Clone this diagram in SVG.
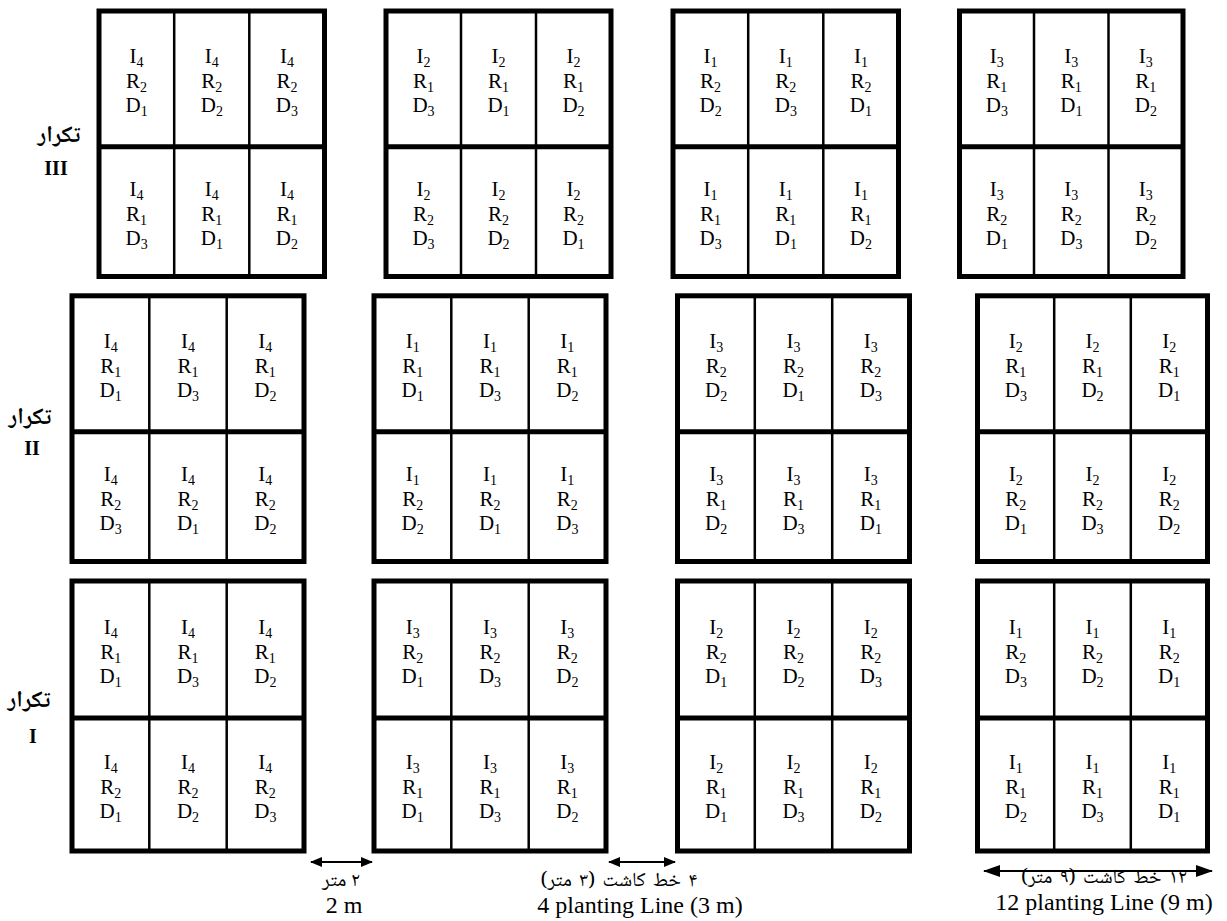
<svg xmlns="http://www.w3.org/2000/svg" width="1227" height="921" viewBox="0 0 1227 921">
<style>
.b{fill:none;stroke:#000;stroke-width:5;stroke-linejoin:miter}
.m{stroke:#000;stroke-width:5}
.v{stroke:#000;stroke-width:2.5}
.c{font-family:"Liberation Serif","Times New Roman",serif;font-size:21px;text-anchor:middle;fill:#000}
.s{font-size:14px}
.fa{font-family:"Noto Naskh Arabic","DejaVu Sans",sans-serif;fill:#000;text-anchor:middle}
.en{font-family:"Liberation Serif","Times New Roman",serif;font-size:24px;fill:#000;text-anchor:middle}
.lb{font-family:"Liberation Serif","Times New Roman",serif;font-size:20px;font-weight:bold;text-anchor:middle;fill:#000}
.ar{stroke:#000;stroke-width:2;fill:none}
</style>
<defs>
<marker id="ah" viewBox="0 0 12 10" refX="11" refY="5" markerWidth="12" markerHeight="10" markerUnits="userSpaceOnUse" orient="auto-start-reverse"><path d="M0,0 L12,5 L0,10 z" fill="#000"/></marker>
<marker id="ahL" viewBox="0 0 17 12" refX="16" refY="6" markerWidth="17" markerHeight="12" markerUnits="userSpaceOnUse" orient="auto-start-reverse"><path d="M0,0 L17,6 L0,12 z" fill="#000"/></marker>
</defs>
<rect width="1227" height="921" fill="#fff"/>

<g id="label-rep3"><text class="fa" x="59" y="142" font-size="23" font-weight="bold" direction="rtl">تکرار</text><text class="lb" x="56" y="175">III</text></g>
<g id="label-rep2"><text class="fa" x="30" y="424" font-size="23" font-weight="bold" direction="rtl">تکرار</text><text class="lb" x="32" y="455">II</text></g>
<g id="label-rep1"><text class="fa" x="29" y="707" font-size="23" font-weight="bold" direction="rtl">تکرار</text><text class="lb" x="33" y="743">I</text></g>

<!-- Replication III -->
<g id="r3b1">
<rect class="b" x="99" y="11" width="225.5" height="265.5"/><line class="m" x1="99" y1="146.7" x2="324.5" y2="146.7"/><line class="v" x1="174.2" y1="11" x2="174.2" y2="276.5"/><line class="v" x1="249.3" y1="11" x2="249.3" y2="276.5"/>
<text class="c"><tspan x="136.6" y="63.4">I</tspan><tspan class="s" dy="4">4</tspan><tspan x="136.6" y="87.9">R</tspan><tspan class="s" dy="4">2</tspan><tspan x="136.6" y="112.4">D</tspan><tspan class="s" dy="4">1</tspan></text>
<text class="c"><tspan x="211.8" y="63.4">I</tspan><tspan class="s" dy="4">4</tspan><tspan x="211.8" y="87.9">R</tspan><tspan class="s" dy="4">2</tspan><tspan x="211.8" y="112.4">D</tspan><tspan class="s" dy="4">2</tspan></text>
<text class="c"><tspan x="286.9" y="63.4">I</tspan><tspan class="s" dy="4">4</tspan><tspan x="286.9" y="87.9">R</tspan><tspan class="s" dy="4">2</tspan><tspan x="286.9" y="112.4">D</tspan><tspan class="s" dy="4">3</tspan></text>
<text class="c"><tspan x="136.6" y="196.1">I</tspan><tspan class="s" dy="4">4</tspan><tspan x="136.6" y="220.6">R</tspan><tspan class="s" dy="4">1</tspan><tspan x="136.6" y="245.1">D</tspan><tspan class="s" dy="4">3</tspan></text>
<text class="c"><tspan x="211.8" y="196.1">I</tspan><tspan class="s" dy="4">4</tspan><tspan x="211.8" y="220.6">R</tspan><tspan class="s" dy="4">1</tspan><tspan x="211.8" y="245.1">D</tspan><tspan class="s" dy="4">1</tspan></text>
<text class="c"><tspan x="286.9" y="196.1">I</tspan><tspan class="s" dy="4">4</tspan><tspan x="286.9" y="220.6">R</tspan><tspan class="s" dy="4">1</tspan><tspan x="286.9" y="245.1">D</tspan><tspan class="s" dy="4">2</tspan></text>
</g>
<g id="r3b2">
<rect class="b" x="386" y="11" width="225" height="265.5"/><line class="m" x1="386" y1="146.7" x2="611" y2="146.7"/><line class="v" x1="461" y1="11" x2="461" y2="276.5"/><line class="v" x1="536" y1="11" x2="536" y2="276.5"/>
<text class="c"><tspan x="423.5" y="63.4">I</tspan><tspan class="s" dy="4">2</tspan><tspan x="423.5" y="87.9">R</tspan><tspan class="s" dy="4">1</tspan><tspan x="423.5" y="112.4">D</tspan><tspan class="s" dy="4">3</tspan></text>
<text class="c"><tspan x="498.5" y="63.4">I</tspan><tspan class="s" dy="4">2</tspan><tspan x="498.5" y="87.9">R</tspan><tspan class="s" dy="4">1</tspan><tspan x="498.5" y="112.4">D</tspan><tspan class="s" dy="4">1</tspan></text>
<text class="c"><tspan x="573.5" y="63.4">I</tspan><tspan class="s" dy="4">2</tspan><tspan x="573.5" y="87.9">R</tspan><tspan class="s" dy="4">1</tspan><tspan x="573.5" y="112.4">D</tspan><tspan class="s" dy="4">2</tspan></text>
<text class="c"><tspan x="423.5" y="196.1">I</tspan><tspan class="s" dy="4">2</tspan><tspan x="423.5" y="220.6">R</tspan><tspan class="s" dy="4">2</tspan><tspan x="423.5" y="245.1">D</tspan><tspan class="s" dy="4">3</tspan></text>
<text class="c"><tspan x="498.5" y="196.1">I</tspan><tspan class="s" dy="4">2</tspan><tspan x="498.5" y="220.6">R</tspan><tspan class="s" dy="4">2</tspan><tspan x="498.5" y="245.1">D</tspan><tspan class="s" dy="4">2</tspan></text>
<text class="c"><tspan x="573.5" y="196.1">I</tspan><tspan class="s" dy="4">2</tspan><tspan x="573.5" y="220.6">R</tspan><tspan class="s" dy="4">2</tspan><tspan x="573.5" y="245.1">D</tspan><tspan class="s" dy="4">1</tspan></text>
</g>
<g id="r3b3">
<rect class="b" x="673" y="11" width="225.5" height="265.5"/><line class="m" x1="673" y1="146.7" x2="898.5" y2="146.7"/><line class="v" x1="748.2" y1="11" x2="748.2" y2="276.5"/><line class="v" x1="823.3" y1="11" x2="823.3" y2="276.5"/>
<text class="c"><tspan x="710.6" y="63.4">I</tspan><tspan class="s" dy="4">1</tspan><tspan x="710.6" y="87.9">R</tspan><tspan class="s" dy="4">2</tspan><tspan x="710.6" y="112.4">D</tspan><tspan class="s" dy="4">2</tspan></text>
<text class="c"><tspan x="785.8" y="63.4">I</tspan><tspan class="s" dy="4">1</tspan><tspan x="785.8" y="87.9">R</tspan><tspan class="s" dy="4">2</tspan><tspan x="785.8" y="112.4">D</tspan><tspan class="s" dy="4">3</tspan></text>
<text class="c"><tspan x="860.9" y="63.4">I</tspan><tspan class="s" dy="4">1</tspan><tspan x="860.9" y="87.9">R</tspan><tspan class="s" dy="4">2</tspan><tspan x="860.9" y="112.4">D</tspan><tspan class="s" dy="4">1</tspan></text>
<text class="c"><tspan x="710.6" y="196.1">I</tspan><tspan class="s" dy="4">1</tspan><tspan x="710.6" y="220.6">R</tspan><tspan class="s" dy="4">1</tspan><tspan x="710.6" y="245.1">D</tspan><tspan class="s" dy="4">3</tspan></text>
<text class="c"><tspan x="785.8" y="196.1">I</tspan><tspan class="s" dy="4">1</tspan><tspan x="785.8" y="220.6">R</tspan><tspan class="s" dy="4">1</tspan><tspan x="785.8" y="245.1">D</tspan><tspan class="s" dy="4">1</tspan></text>
<text class="c"><tspan x="860.9" y="196.1">I</tspan><tspan class="s" dy="4">1</tspan><tspan x="860.9" y="220.6">R</tspan><tspan class="s" dy="4">1</tspan><tspan x="860.9" y="245.1">D</tspan><tspan class="s" dy="4">2</tspan></text>
</g>
<g id="r3b4">
<rect class="b" x="959.5" y="11" width="223.5" height="265.5"/><line class="m" x1="959.5" y1="146.7" x2="1183" y2="146.7"/><line class="v" x1="1034" y1="11" x2="1034" y2="276.5"/><line class="v" x1="1108.5" y1="11" x2="1108.5" y2="276.5"/>
<text class="c"><tspan x="996.8" y="63.4">I</tspan><tspan class="s" dy="4">3</tspan><tspan x="996.8" y="87.9">R</tspan><tspan class="s" dy="4">1</tspan><tspan x="996.8" y="112.4">D</tspan><tspan class="s" dy="4">3</tspan></text>
<text class="c"><tspan x="1071.3" y="63.4">I</tspan><tspan class="s" dy="4">3</tspan><tspan x="1071.3" y="87.9">R</tspan><tspan class="s" dy="4">1</tspan><tspan x="1071.3" y="112.4">D</tspan><tspan class="s" dy="4">1</tspan></text>
<text class="c"><tspan x="1145.8" y="63.4">I</tspan><tspan class="s" dy="4">3</tspan><tspan x="1145.8" y="87.9">R</tspan><tspan class="s" dy="4">1</tspan><tspan x="1145.8" y="112.4">D</tspan><tspan class="s" dy="4">2</tspan></text>
<text class="c"><tspan x="996.8" y="196.1">I</tspan><tspan class="s" dy="4">3</tspan><tspan x="996.8" y="220.6">R</tspan><tspan class="s" dy="4">2</tspan><tspan x="996.8" y="245.1">D</tspan><tspan class="s" dy="4">1</tspan></text>
<text class="c"><tspan x="1071.3" y="196.1">I</tspan><tspan class="s" dy="4">3</tspan><tspan x="1071.3" y="220.6">R</tspan><tspan class="s" dy="4">2</tspan><tspan x="1071.3" y="245.1">D</tspan><tspan class="s" dy="4">3</tspan></text>
<text class="c"><tspan x="1145.8" y="196.1">I</tspan><tspan class="s" dy="4">3</tspan><tspan x="1145.8" y="220.6">R</tspan><tspan class="s" dy="4">2</tspan><tspan x="1145.8" y="245.1">D</tspan><tspan class="s" dy="4">2</tspan></text>
</g>

<!-- Replication II -->
<g id="r2b1">
<rect class="b" x="72" y="295.8" width="232" height="265.7"/><line class="m" x1="72" y1="431.8" x2="304" y2="431.8"/><line class="v" x1="149.3" y1="295.8" x2="149.3" y2="561.5"/><line class="v" x1="226.7" y1="295.8" x2="226.7" y2="561.5"/>
<text class="c"><tspan x="110.7" y="348.3">I</tspan><tspan class="s" dy="4">4</tspan><tspan x="110.7" y="372.8">R</tspan><tspan class="s" dy="4">1</tspan><tspan x="110.7" y="397.3">D</tspan><tspan class="s" dy="4">1</tspan></text>
<text class="c"><tspan x="188" y="348.3">I</tspan><tspan class="s" dy="4">4</tspan><tspan x="188" y="372.8">R</tspan><tspan class="s" dy="4">1</tspan><tspan x="188" y="397.3">D</tspan><tspan class="s" dy="4">3</tspan></text>
<text class="c"><tspan x="265.3" y="348.3">I</tspan><tspan class="s" dy="4">4</tspan><tspan x="265.3" y="372.8">R</tspan><tspan class="s" dy="4">1</tspan><tspan x="265.3" y="397.3">D</tspan><tspan class="s" dy="4">2</tspan></text>
<text class="c"><tspan x="110.7" y="481.2">I</tspan><tspan class="s" dy="4">4</tspan><tspan x="110.7" y="505.7">R</tspan><tspan class="s" dy="4">2</tspan><tspan x="110.7" y="530.2">D</tspan><tspan class="s" dy="4">3</tspan></text>
<text class="c"><tspan x="188" y="481.2">I</tspan><tspan class="s" dy="4">4</tspan><tspan x="188" y="505.7">R</tspan><tspan class="s" dy="4">2</tspan><tspan x="188" y="530.2">D</tspan><tspan class="s" dy="4">1</tspan></text>
<text class="c"><tspan x="265.3" y="481.2">I</tspan><tspan class="s" dy="4">4</tspan><tspan x="265.3" y="505.7">R</tspan><tspan class="s" dy="4">2</tspan><tspan x="265.3" y="530.2">D</tspan><tspan class="s" dy="4">2</tspan></text>
</g>
<g id="r2b2">
<rect class="b" x="374" y="295.8" width="232" height="265.7"/><line class="m" x1="374" y1="431.8" x2="606" y2="431.8"/><line class="v" x1="451.3" y1="295.8" x2="451.3" y2="561.5"/><line class="v" x1="528.7" y1="295.8" x2="528.7" y2="561.5"/>
<text class="c"><tspan x="412.7" y="348.3">I</tspan><tspan class="s" dy="4">1</tspan><tspan x="412.7" y="372.8">R</tspan><tspan class="s" dy="4">1</tspan><tspan x="412.7" y="397.3">D</tspan><tspan class="s" dy="4">1</tspan></text>
<text class="c"><tspan x="490" y="348.3">I</tspan><tspan class="s" dy="4">1</tspan><tspan x="490" y="372.8">R</tspan><tspan class="s" dy="4">1</tspan><tspan x="490" y="397.3">D</tspan><tspan class="s" dy="4">3</tspan></text>
<text class="c"><tspan x="567.3" y="348.3">I</tspan><tspan class="s" dy="4">1</tspan><tspan x="567.3" y="372.8">R</tspan><tspan class="s" dy="4">1</tspan><tspan x="567.3" y="397.3">D</tspan><tspan class="s" dy="4">2</tspan></text>
<text class="c"><tspan x="412.7" y="481.2">I</tspan><tspan class="s" dy="4">1</tspan><tspan x="412.7" y="505.7">R</tspan><tspan class="s" dy="4">2</tspan><tspan x="412.7" y="530.2">D</tspan><tspan class="s" dy="4">2</tspan></text>
<text class="c"><tspan x="490" y="481.2">I</tspan><tspan class="s" dy="4">1</tspan><tspan x="490" y="505.7">R</tspan><tspan class="s" dy="4">2</tspan><tspan x="490" y="530.2">D</tspan><tspan class="s" dy="4">1</tspan></text>
<text class="c"><tspan x="567.3" y="481.2">I</tspan><tspan class="s" dy="4">1</tspan><tspan x="567.3" y="505.7">R</tspan><tspan class="s" dy="4">2</tspan><tspan x="567.3" y="530.2">D</tspan><tspan class="s" dy="4">3</tspan></text>
</g>
<g id="r2b3">
<rect class="b" x="677.5" y="295.8" width="232" height="265.7"/><line class="m" x1="677.5" y1="431.8" x2="909.5" y2="431.8"/><line class="v" x1="754.8" y1="295.8" x2="754.8" y2="561.5"/><line class="v" x1="832.2" y1="295.8" x2="832.2" y2="561.5"/>
<text class="c"><tspan x="716.2" y="348.3">I</tspan><tspan class="s" dy="4">3</tspan><tspan x="716.2" y="372.8">R</tspan><tspan class="s" dy="4">2</tspan><tspan x="716.2" y="397.3">D</tspan><tspan class="s" dy="4">2</tspan></text>
<text class="c"><tspan x="793.5" y="348.3">I</tspan><tspan class="s" dy="4">3</tspan><tspan x="793.5" y="372.8">R</tspan><tspan class="s" dy="4">2</tspan><tspan x="793.5" y="397.3">D</tspan><tspan class="s" dy="4">1</tspan></text>
<text class="c"><tspan x="870.8" y="348.3">I</tspan><tspan class="s" dy="4">3</tspan><tspan x="870.8" y="372.8">R</tspan><tspan class="s" dy="4">2</tspan><tspan x="870.8" y="397.3">D</tspan><tspan class="s" dy="4">3</tspan></text>
<text class="c"><tspan x="716.2" y="481.2">I</tspan><tspan class="s" dy="4">3</tspan><tspan x="716.2" y="505.7">R</tspan><tspan class="s" dy="4">1</tspan><tspan x="716.2" y="530.2">D</tspan><tspan class="s" dy="4">2</tspan></text>
<text class="c"><tspan x="793.5" y="481.2">I</tspan><tspan class="s" dy="4">3</tspan><tspan x="793.5" y="505.7">R</tspan><tspan class="s" dy="4">1</tspan><tspan x="793.5" y="530.2">D</tspan><tspan class="s" dy="4">3</tspan></text>
<text class="c"><tspan x="870.8" y="481.2">I</tspan><tspan class="s" dy="4">3</tspan><tspan x="870.8" y="505.7">R</tspan><tspan class="s" dy="4">1</tspan><tspan x="870.8" y="530.2">D</tspan><tspan class="s" dy="4">1</tspan></text>
</g>
<g id="r2b4">
<rect class="b" x="977.5" y="295.8" width="230" height="265.7"/><line class="m" x1="977.5" y1="431.8" x2="1207.5" y2="431.8"/><line class="v" x1="1054.2" y1="295.8" x2="1054.2" y2="561.5"/><line class="v" x1="1130.8" y1="295.8" x2="1130.8" y2="561.5"/>
<text class="c"><tspan x="1015.8" y="348.3">I</tspan><tspan class="s" dy="4">2</tspan><tspan x="1015.8" y="372.8">R</tspan><tspan class="s" dy="4">1</tspan><tspan x="1015.8" y="397.3">D</tspan><tspan class="s" dy="4">3</tspan></text>
<text class="c"><tspan x="1092.5" y="348.3">I</tspan><tspan class="s" dy="4">2</tspan><tspan x="1092.5" y="372.8">R</tspan><tspan class="s" dy="4">1</tspan><tspan x="1092.5" y="397.3">D</tspan><tspan class="s" dy="4">2</tspan></text>
<text class="c"><tspan x="1169.2" y="348.3">I</tspan><tspan class="s" dy="4">2</tspan><tspan x="1169.2" y="372.8">R</tspan><tspan class="s" dy="4">1</tspan><tspan x="1169.2" y="397.3">D</tspan><tspan class="s" dy="4">1</tspan></text>
<text class="c"><tspan x="1015.8" y="481.2">I</tspan><tspan class="s" dy="4">2</tspan><tspan x="1015.8" y="505.7">R</tspan><tspan class="s" dy="4">2</tspan><tspan x="1015.8" y="530.2">D</tspan><tspan class="s" dy="4">1</tspan></text>
<text class="c"><tspan x="1092.5" y="481.2">I</tspan><tspan class="s" dy="4">2</tspan><tspan x="1092.5" y="505.7">R</tspan><tspan class="s" dy="4">2</tspan><tspan x="1092.5" y="530.2">D</tspan><tspan class="s" dy="4">3</tspan></text>
<text class="c"><tspan x="1169.2" y="481.2">I</tspan><tspan class="s" dy="4">2</tspan><tspan x="1169.2" y="505.7">R</tspan><tspan class="s" dy="4">2</tspan><tspan x="1169.2" y="530.2">D</tspan><tspan class="s" dy="4">2</tspan></text>
</g>

<!-- Replication I -->
<g id="r1b1">
<rect class="b" x="72" y="581" width="232" height="270"/><line class="m" x1="72" y1="718" x2="304" y2="718"/><line class="v" x1="149.3" y1="581" x2="149.3" y2="851"/><line class="v" x1="226.7" y1="581" x2="226.7" y2="851"/>
<text class="c"><tspan x="110.7" y="634">I</tspan><tspan class="s" dy="4">4</tspan><tspan x="110.7" y="658.5">R</tspan><tspan class="s" dy="4">1</tspan><tspan x="110.7" y="683">D</tspan><tspan class="s" dy="4">1</tspan></text>
<text class="c"><tspan x="188" y="634">I</tspan><tspan class="s" dy="4">4</tspan><tspan x="188" y="658.5">R</tspan><tspan class="s" dy="4">1</tspan><tspan x="188" y="683">D</tspan><tspan class="s" dy="4">3</tspan></text>
<text class="c"><tspan x="265.3" y="634">I</tspan><tspan class="s" dy="4">4</tspan><tspan x="265.3" y="658.5">R</tspan><tspan class="s" dy="4">1</tspan><tspan x="265.3" y="683">D</tspan><tspan class="s" dy="4">2</tspan></text>
<text class="c"><tspan x="110.7" y="769">I</tspan><tspan class="s" dy="4">4</tspan><tspan x="110.7" y="793.5">R</tspan><tspan class="s" dy="4">2</tspan><tspan x="110.7" y="818">D</tspan><tspan class="s" dy="4">1</tspan></text>
<text class="c"><tspan x="188" y="769">I</tspan><tspan class="s" dy="4">4</tspan><tspan x="188" y="793.5">R</tspan><tspan class="s" dy="4">2</tspan><tspan x="188" y="818">D</tspan><tspan class="s" dy="4">2</tspan></text>
<text class="c"><tspan x="265.3" y="769">I</tspan><tspan class="s" dy="4">4</tspan><tspan x="265.3" y="793.5">R</tspan><tspan class="s" dy="4">2</tspan><tspan x="265.3" y="818">D</tspan><tspan class="s" dy="4">3</tspan></text>
</g>
<g id="r1b2">
<rect class="b" x="374" y="581" width="232" height="270"/><line class="m" x1="374" y1="718" x2="606" y2="718"/><line class="v" x1="451.3" y1="581" x2="451.3" y2="851"/><line class="v" x1="528.7" y1="581" x2="528.7" y2="851"/>
<text class="c"><tspan x="412.7" y="634">I</tspan><tspan class="s" dy="4">3</tspan><tspan x="412.7" y="658.5">R</tspan><tspan class="s" dy="4">2</tspan><tspan x="412.7" y="683">D</tspan><tspan class="s" dy="4">1</tspan></text>
<text class="c"><tspan x="490" y="634">I</tspan><tspan class="s" dy="4">3</tspan><tspan x="490" y="658.5">R</tspan><tspan class="s" dy="4">2</tspan><tspan x="490" y="683">D</tspan><tspan class="s" dy="4">3</tspan></text>
<text class="c"><tspan x="567.3" y="634">I</tspan><tspan class="s" dy="4">3</tspan><tspan x="567.3" y="658.5">R</tspan><tspan class="s" dy="4">2</tspan><tspan x="567.3" y="683">D</tspan><tspan class="s" dy="4">2</tspan></text>
<text class="c"><tspan x="412.7" y="769">I</tspan><tspan class="s" dy="4">3</tspan><tspan x="412.7" y="793.5">R</tspan><tspan class="s" dy="4">1</tspan><tspan x="412.7" y="818">D</tspan><tspan class="s" dy="4">1</tspan></text>
<text class="c"><tspan x="490" y="769">I</tspan><tspan class="s" dy="4">3</tspan><tspan x="490" y="793.5">R</tspan><tspan class="s" dy="4">1</tspan><tspan x="490" y="818">D</tspan><tspan class="s" dy="4">3</tspan></text>
<text class="c"><tspan x="567.3" y="769">I</tspan><tspan class="s" dy="4">3</tspan><tspan x="567.3" y="793.5">R</tspan><tspan class="s" dy="4">1</tspan><tspan x="567.3" y="818">D</tspan><tspan class="s" dy="4">2</tspan></text>
</g>
<g id="r1b3">
<rect class="b" x="677.5" y="581" width="232" height="270"/><line class="m" x1="677.5" y1="718" x2="909.5" y2="718"/><line class="v" x1="754.8" y1="581" x2="754.8" y2="851"/><line class="v" x1="832.2" y1="581" x2="832.2" y2="851"/>
<text class="c"><tspan x="716.2" y="634">I</tspan><tspan class="s" dy="4">2</tspan><tspan x="716.2" y="658.5">R</tspan><tspan class="s" dy="4">2</tspan><tspan x="716.2" y="683">D</tspan><tspan class="s" dy="4">1</tspan></text>
<text class="c"><tspan x="793.5" y="634">I</tspan><tspan class="s" dy="4">2</tspan><tspan x="793.5" y="658.5">R</tspan><tspan class="s" dy="4">2</tspan><tspan x="793.5" y="683">D</tspan><tspan class="s" dy="4">2</tspan></text>
<text class="c"><tspan x="870.8" y="634">I</tspan><tspan class="s" dy="4">2</tspan><tspan x="870.8" y="658.5">R</tspan><tspan class="s" dy="4">2</tspan><tspan x="870.8" y="683">D</tspan><tspan class="s" dy="4">3</tspan></text>
<text class="c"><tspan x="716.2" y="769">I</tspan><tspan class="s" dy="4">2</tspan><tspan x="716.2" y="793.5">R</tspan><tspan class="s" dy="4">1</tspan><tspan x="716.2" y="818">D</tspan><tspan class="s" dy="4">1</tspan></text>
<text class="c"><tspan x="793.5" y="769">I</tspan><tspan class="s" dy="4">2</tspan><tspan x="793.5" y="793.5">R</tspan><tspan class="s" dy="4">1</tspan><tspan x="793.5" y="818">D</tspan><tspan class="s" dy="4">3</tspan></text>
<text class="c"><tspan x="870.8" y="769">I</tspan><tspan class="s" dy="4">2</tspan><tspan x="870.8" y="793.5">R</tspan><tspan class="s" dy="4">1</tspan><tspan x="870.8" y="818">D</tspan><tspan class="s" dy="4">2</tspan></text>
</g>
<g id="r1b4">
<rect class="b" x="977.5" y="581" width="230" height="270"/><line class="m" x1="977.5" y1="718" x2="1207.5" y2="718"/><line class="v" x1="1054.2" y1="581" x2="1054.2" y2="851"/><line class="v" x1="1130.8" y1="581" x2="1130.8" y2="851"/>
<text class="c"><tspan x="1015.8" y="634">I</tspan><tspan class="s" dy="4">1</tspan><tspan x="1015.8" y="658.5">R</tspan><tspan class="s" dy="4">2</tspan><tspan x="1015.8" y="683">D</tspan><tspan class="s" dy="4">3</tspan></text>
<text class="c"><tspan x="1092.5" y="634">I</tspan><tspan class="s" dy="4">1</tspan><tspan x="1092.5" y="658.5">R</tspan><tspan class="s" dy="4">2</tspan><tspan x="1092.5" y="683">D</tspan><tspan class="s" dy="4">2</tspan></text>
<text class="c"><tspan x="1169.2" y="634">I</tspan><tspan class="s" dy="4">1</tspan><tspan x="1169.2" y="658.5">R</tspan><tspan class="s" dy="4">2</tspan><tspan x="1169.2" y="683">D</tspan><tspan class="s" dy="4">1</tspan></text>
<text class="c"><tspan x="1015.8" y="769">I</tspan><tspan class="s" dy="4">1</tspan><tspan x="1015.8" y="793.5">R</tspan><tspan class="s" dy="4">1</tspan><tspan x="1015.8" y="818">D</tspan><tspan class="s" dy="4">2</tspan></text>
<text class="c"><tspan x="1092.5" y="769">I</tspan><tspan class="s" dy="4">1</tspan><tspan x="1092.5" y="793.5">R</tspan><tspan class="s" dy="4">1</tspan><tspan x="1092.5" y="818">D</tspan><tspan class="s" dy="4">3</tspan></text>
<text class="c"><tspan x="1169.2" y="769">I</tspan><tspan class="s" dy="4">1</tspan><tspan x="1169.2" y="793.5">R</tspan><tspan class="s" dy="4">1</tspan><tspan x="1169.2" y="818">D</tspan><tspan class="s" dy="4">1</tspan></text>
</g>

<g id="connectors">
<line class="ar" x1="311" y1="862" x2="372" y2="862" marker-start="url(#ah)" marker-end="url(#ah)"/>
<line class="ar" x1="609" y1="862" x2="675" y2="862" marker-start="url(#ah)" marker-end="url(#ah)"/>
<line class="ar" x1="984" y1="871" x2="1212" y2="871" marker-start="url(#ahL)" marker-end="url(#ahL)"/>
</g>

<g id="dim-labels">
<text class="fa" x="341" y="886" font-size="20" direction="rtl">۲ متر</text>
<text class="en" x="344" y="913">2 m</text>
<text class="fa" x="619" y="886" font-size="20" word-spacing="3" direction="rtl">۴ خط کاشت (۳ متر)</text>
<text class="en" x="640" y="913">4 planting Line (3 m)</text>
<text class="fa" x="1104" y="883" font-size="20" word-spacing="3" direction="rtl">۱۲ خط کاشت (۹ متر)</text>
<text class="en" x="1104" y="910">12 planting Line (9 m)</text>
</g>
</svg>
